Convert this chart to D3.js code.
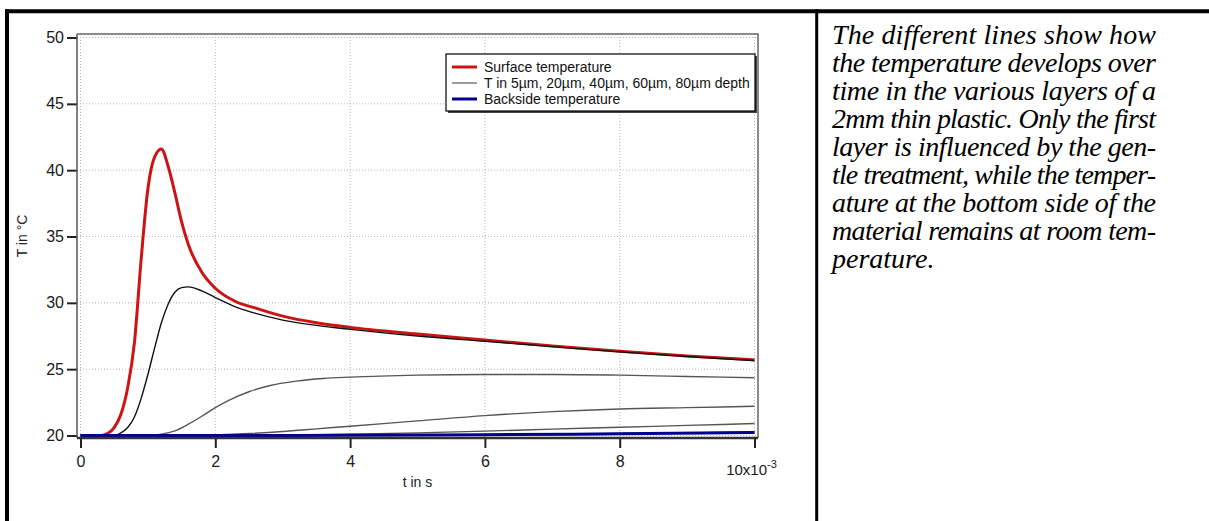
<!DOCTYPE html>
<html>
<head>
<meta charset="utf-8">
<script src="https://cdn.jsdelivr.net/npm/d3@7"></script>
<style>
  body { margin: 0; background: #fff; }
  svg { display: block; }
</style>
</head>
<body>
<div id="chart"></div>
<script>
/* data (t in ms, T in degC) */
var surfaceT = [0, 0.3, 0.4, 0.5, 0.6, 0.7, 0.8, 0.9, 1.0, 1.1, 1.2, 1.3, 1.4, 1.5, 1.6, 1.8, 2.0, 2.3, 2.6, 3.0, 3.5, 4.0, 5.0, 6.0, 7.0, 8.0, 9.0, 10.0],
    surfaceV = [20, 20.0, 20.15, 20.6, 21.6, 23.6, 27.0, 33.3, 38.6, 41.0, 41.6, 40.3, 38.3, 36.1, 34.4, 32.3, 31.1, 30.1, 29.6, 29.0, 28.5, 28.15, 27.65, 27.2, 26.75, 26.35, 26.0, 25.7];

var d5T = [0, 0.5, 0.6, 0.7, 0.8, 0.9, 1.0, 1.1, 1.2, 1.3, 1.4, 1.5, 1.6, 1.8, 2.0, 2.3, 2.6, 3.0, 3.5, 4.0, 5.0, 6.0, 7.0, 8.0, 9.0, 10.0],
    d5V = [20, 20.0, 20.2, 20.6, 21.4, 22.8, 24.6, 26.6, 28.5, 29.9, 30.8, 31.15, 31.2, 30.9, 30.4, 29.7, 29.2, 28.7, 28.3, 28.0, 27.5, 27.1, 26.7, 26.3, 25.95, 25.65];

var d20T = [0, 1.0, 1.2, 1.4, 1.6, 1.8, 2.0, 2.2, 2.5, 2.8, 3.2, 3.6, 4.0, 5.0, 6.0, 7.0, 8.0, 9.0, 10.0],
    d20V = [20, 20.0, 20.1, 20.35, 20.85, 21.45, 22.1, 22.65, 23.3, 23.75, 24.1, 24.3, 24.4, 24.55, 24.6, 24.6, 24.55, 24.45, 24.35];

var d40T = [0, 1.5, 2.0, 2.5, 3.0, 3.5, 4.0, 5.0, 6.0, 7.0, 8.0, 9.0, 10.0],
    d40V = [20, 20.0, 20.05, 20.15, 20.3, 20.5, 20.7, 21.1, 21.5, 21.8, 22.0, 22.1, 22.2];

var d60T = [0, 2.0, 3.0, 4.0, 5.0, 6.0, 7.0, 8.0, 9.0, 10.0],
    d60V = [20, 20.0, 20.03, 20.1, 20.2, 20.33, 20.48, 20.62, 20.76, 20.9];

var d80T = [0, 3, 4, 5, 6, 7, 8, 9, 10],
    d80V = [20, 20.0, 20.01, 20.03, 20.06, 20.1, 20.15, 20.2, 20.26];

var backT = [0, 2, 4, 6, 8, 10],
    backV = [20, 20.0, 20.02, 20.06, 20.13, 20.22];

var xTicks = [0, 2, 4, 6, 8],
    yTicks = [20, 25, 30, 35, 40, 45, 50],
    legendLabels = ["Surface temperature", "T in 5\u00b5m, 20\u00b5m, 40\u00b5m, 60\u00b5m, 80\u00b5m depth", "Backside temperature"],
    noteLines = [
        "The different lines show how",
        "the temperature develops over",
        "time in the various layers of a",
        "2mm thin plastic. Only the first",
        "layer is influenced by the gen-",
        "tle treatment, while the temper-",
        "ature at the bottom side of the",
        "material remains at room tem-",
        "perature."
    ];

/* layout */
var W = 1209,
    H = 521,
    frame = { left: 77, right: 758, top: 34, bottom: 438 },
    font = '"Liberation Sans", Arial, sans-serif',
    serif = '"Liberation Serif", "Times New Roman", serif';

var svg = d3.select("#chart")
    .append("svg")
    .attr("width", W)
    .attr("height", H);

/* page borders */
svg.append("line")
    .attr("x1", 5).attr("x2", W)
    .attr("y1", 11.3).attr("y2", 11.3)
    .attr("stroke", "#000").attr("stroke-width", 4);
svg.append("line")
    .attr("x1", 7).attr("x2", 7)
    .attr("y1", 9.3).attr("y2", H)
    .attr("stroke", "#000").attr("stroke-width", 4);
svg.append("line")
    .attr("x1", 816.7).attr("x2", 816.7)
    .attr("y1", 9.3).attr("y2", H)
    .attr("stroke", "#000").attr("stroke-width", 3);

/* scales */
var x = d3.scaleLinear().domain([0, 10]).range([80.5, 754.5]),
    y = d3.scaleLinear().domain([20, 50]).range([435.5, 37.5]);

var plot = svg.append("g").attr("class", "plot");

// grids
plot.append("g")
    .attr("class", "grid-x")
    .selectAll("line")
    .data(xTicks.concat([10]))
    .join("line")
    .attr("x1", d => x(d)).attr("x2", d => x(d))
    .attr("y1", frame.top).attr("y2", frame.bottom)
    .attr("stroke", "#b8b8b8")
    .attr("stroke-width", 1)
    .attr("stroke-dasharray", "1,2");
plot.append("g")
    .attr("class", "grid-y")
    .selectAll("line")
    .data(yTicks)
    .join("line")
    .attr("x1", frame.left).attr("x2", frame.right)
    .attr("y1", d => y(d)).attr("y2", d => y(d))
    .attr("stroke", "#b8b8b8")
    .attr("stroke-width", 1)
    .attr("stroke-dasharray", "1,2");

// frame top / right
plot.append("path")
    .attr("d", "M" + frame.left + "," + frame.top + "H" + frame.right + "V" + frame.bottom)
    .attr("fill", "none")
    .attr("stroke", "#666")
    .attr("stroke-width", 1.5);

/* series */
var line = d3.line()
    .x(d => x(d[0]))
    .y(d => y(d[1]))
    .curve(d3.curveMonotoneX);

var series = [
    { t: surfaceT, v: surfaceV, color: "#cc1414", width: 3 },
    { t: d5T, v: d5V, color: "#111", width: 1.4 },
    { t: d20T, v: d20V, color: "#555", width: 1.4 },
    { t: d40T, v: d40V, color: "#555", width: 1.4 },
    { t: d60T, v: d60V, color: "#555", width: 1.4 },
    { t: d80T, v: d80V, color: "#555", width: 1.4 },
    { t: backT, v: backV, color: "#00008f", width: 3 }
];

plot.append("g")
    .attr("class", "series")
    .selectAll("path")
    .data(series)
    .join("path")
    .attr("d", s => line(s.t.map((t, i) => [t, s.v[i]])))
    .attr("fill", "none")
    .attr("stroke", s => s.color)
    .attr("stroke-width", s => s.width)
    .attr("stroke-linejoin", "round");

/* axes */
var yAxis = d3.axisLeft(y)
    .tickValues(yTicks)
    .tickSize(10)
    .tickPadding(3);
var yG = plot.append("g")
    .attr("transform", "translate(" + frame.left + ",0)")
    .call(yAxis)
    .attr("font-family", font)
    .attr("font-size", 16);
yG.select(".domain").remove();
yG.append("line")
    .attr("x1", 0).attr("x2", 0)
    .attr("y1", frame.top).attr("y2", frame.bottom)
    .attr("stroke", "#555").attr("stroke-width", 1.5);
yG.selectAll(".tick line").attr("stroke", "#222").attr("stroke-width", 2);
yG.selectAll(".tick text").attr("fill", "#1a1a1a");

var xAxis = d3.axisBottom(x)
    .tickValues(xTicks.concat([10]))
    .tickFormat(d => d === 10 ? "" : d)
    .tickSize(10)
    .tickPadding(8);
var xG = plot.append("g")
    .attr("transform", "translate(0," + frame.bottom + ")")
    .call(xAxis)
    .attr("font-family", font)
    .attr("font-size", 16);
xG.select(".domain").remove();
xG.append("line")
    .attr("x1", frame.left).attr("x2", frame.right)
    .attr("y1", 0).attr("y2", 0)
    .attr("stroke", "#333").attr("stroke-width", 2.5);
xG.selectAll(".tick line").attr("stroke", "#222").attr("stroke-width", 2);
xG.selectAll(".tick text").attr("fill", "#1a1a1a");

// last tick label with exponent
var lastLbl = xG.append("text")
    .attr("x", x(10) - 3)
    .attr("y", 37)
    .attr("text-anchor", "middle")
    .attr("font-family", font)
    .attr("font-size", 15)
    .attr("fill", "#1a1a1a");
lastLbl.append("tspan").text("10x10");
lastLbl.append("tspan")
    .attr("dy", -7)
    .attr("font-size", 11)
    .text("-3");

// axis titles
svg.append("text")
    .attr("transform", "translate(27," + ((frame.top + frame.bottom) / 2) + ") rotate(-90)")
    .attr("text-anchor", "middle")
    .attr("font-family", font)
    .attr("font-size", 14)
    .attr("fill", "#222")
    .text("T in \u00b0C");
svg.append("text")
    .attr("x", (frame.left + frame.right) / 2)
    .attr("y", 487)
    .attr("text-anchor", "middle")
    .attr("font-family", font)
    .attr("font-size", 14)
    .attr("fill", "#222")
    .text("t in s");

/* legend */
var lgd = svg.append("g")
    .attr("class", "legend")
    .attr("transform", "translate(446,54)"),
    lgdW = 309,
    lgdH = 57,
    lgdColors = ["#cc1414", "#666", "#00008f"],
    lgdWidths = [3, 1.3, 3];

lgd.append("rect")
    .attr("x", 2).attr("y", 2)
    .attr("width", lgdW).attr("height", lgdH)
    .attr("fill", "#444");
lgd.append("rect")
    .attr("width", lgdW).attr("height", lgdH)
    .attr("fill", "#fff")
    .attr("stroke", "#000")
    .attr("stroke-width", 1.2);

var lgdItem = lgd.selectAll("g.item")
    .data(legendLabels)
    .join("g")
    .attr("class", "item")
    .attr("transform", (d, i) => "translate(0," + (13 + i * 16) + ")");
lgdItem.append("line")
    .attr("x1", 6).attr("x2", 31)
    .attr("stroke", (d, i) => lgdColors[i])
    .attr("stroke-width", (d, i) => lgdWidths[i]);
lgdItem.append("text")
    .attr("x", 38)
    .attr("y", 5)
    .attr("font-family", font)
    .attr("font-size", 14)
    .attr("fill", "#111")
    .text(d => d);

/* note text */
svg.append("g")
    .attr("class", "note")
    .selectAll("text")
    .data(noteLines)
    .join("text")
    .attr("x", 832)
    .attr("y", (d, i) => 44 + i * 28)
    .attr("font-family", serif)
    .attr("font-style", "italic")
    .attr("font-size", 28)
    .attr("fill", "#000")
    .attr("textLength", (d, i) => i < noteLines.length - 1 ? 324 : null)
    .attr("lengthAdjust", "spacing")
    .text(d => d);
</script>
</body>
</html>
